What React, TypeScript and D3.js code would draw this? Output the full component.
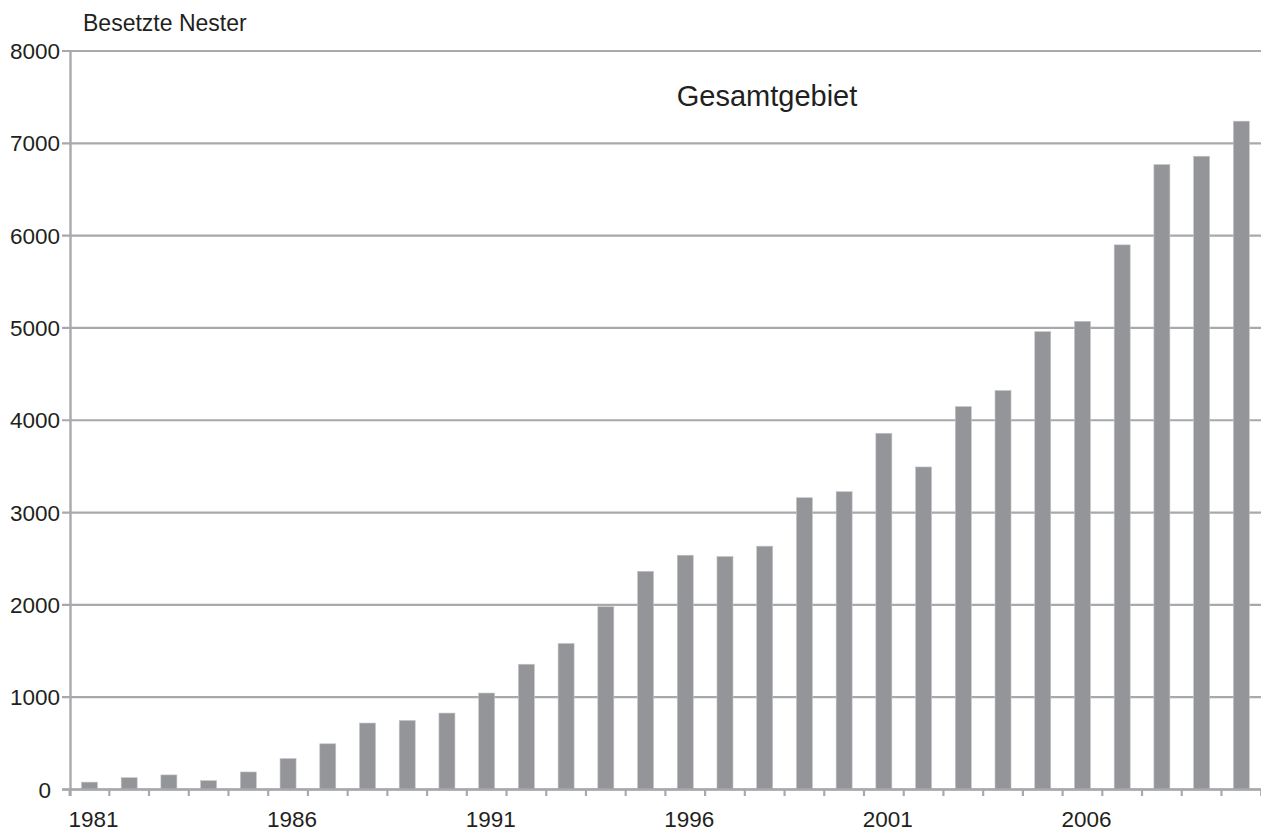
import React from "react";
import * as d3 from "d3";

const years: string[] = [
  "1981","1982","1983","1984","1985","1986","1987","1988","1989","1990",
  "1991","1992","1993","1994","1995","1996","1997","1998","1999","2000",
  "2001","2002","2003","2004","2005","2006","2007","2008","2009","2010",
];
const nests: number[] = [
  80, 128, 158, 96, 190, 335, 495, 720, 748, 828,
  1045, 1357, 1582, 1980, 2364, 2538, 2524, 2636, 3161, 3226,
  3859, 3494, 4148, 4322, 4960, 5072, 5900, 6770, 6860, 7240,
];
const yTicks: number[] = [0, 1000, 2000, 3000, 4000, 5000, 6000, 7000, 8000];
const xLabelYears: string[] = ["1981", "1986", "1991", "1996", "2001", "2006"];
const title = "Gesamtgebiet";
const yAxisTitle = "Besetzte Nester";

const W = 1261;
const H = 831;
const FONT = "'Liberation Sans', Arial, Helvetica, sans-serif";
const GRID = "#a7a9ac";
const BAR = "#939598";
const TEXT = "#231f20";

export default function App() {
  const x = d3.scaleBand<string>().domain(years).range([69.6, 1261.2]).paddingInner(0.6).paddingOuter(0.3);
  const y = d3.scaleLinear().domain([0, 8000]).range([789.5, 51]);
  const step = x.step();
  const x0 = 69.6;
  const center = (i: number) => x0 + (i + 0.5) * step;

  return (
    <svg
      width={W}
      height={H}
      viewBox={`0 0 ${W} ${H}`}
      style={{ position: "absolute", left: 0, top: 0, display: "block", background: "#fff" }}
    >
      {yTicks.map((t) => (
        <line key={"g" + t} x1={62} x2={W} y1={y(t)} y2={y(t)} stroke={GRID} strokeWidth={2.2} />
      ))}
      {years.map((yr, i) => (
        <rect
          key={yr}
          x={center(i) - 8}
          width={16}
          y={y(nests[i])}
          height={y(0) - y(nests[i])}
          fill={BAR}
          stroke="#c4c5c7"
          strokeWidth={0.6}
        />
      ))}
      {d3.range(years.length + 1).map((i) => (
        <line
          key={"xt" + i}
          x1={x0 + i * step}
          x2={x0 + i * step}
          y1={y(0)}
          y2={796}
          stroke={GRID}
          strokeWidth={2.2}
        />
      ))}
      <line x1={62} x2={W} y1={y(0)} y2={y(0)} stroke={GRID} strokeWidth={2.4} />
      <line x1={70.5} x2={70.5} y1={y(8000) - 1} y2={796} stroke={GRID} strokeWidth={2.4} />
      {yTicks.map((t) => (
        <text
          key={"yl" + t}
          x={t === 0 ? 51 : 60}
          y={y(t)}
          dy="0.36em"
          textAnchor="end"
          fontFamily={FONT}
          fontSize={22.5}
          fill={TEXT}
        >
          {t}
        </text>
      ))}
      {xLabelYears.map((yr) => (
        <text
          key={"xl" + yr}
          x={center(years.indexOf(yr)) + 4}
          y={827}
          textAnchor="middle"
          fontFamily={FONT}
          fontSize={22.5}
          fill={TEXT}
        >
          {yr}
        </text>
      ))}
      <text x={83} y={30.7} fontFamily={FONT} fontSize={23} fill={TEXT}>
        {yAxisTitle}
      </text>
      <text x={767} y={106} textAnchor="middle" fontFamily={FONT} fontSize={29} fill={TEXT}>
        {title}
      </text>
    </svg>
  );
}
